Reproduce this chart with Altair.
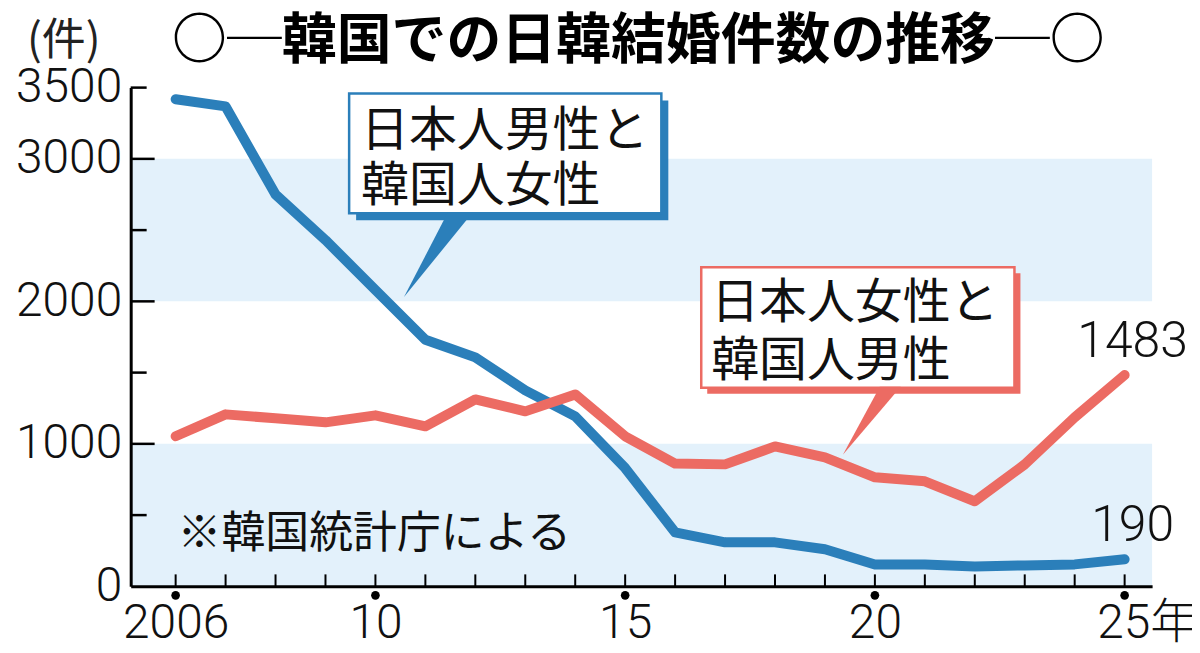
import altair as alt
import pandas as pd

# ---- data ----
years = list(range(2006, 2026))
jp_men_kr_women = [3418, 3368, 2750, 2430, 2080, 1730, 1607, 1375, 1193, 830,
                   379, 309, 309, 260, 154, 154, 140, 147, 154, 190]
jp_women_kr_men = [1053, 1207, 1179, 1151, 1200, 1123, 1312, 1228, 1347, 1053,
                   862, 856, 982, 905, 765, 737, 597, 856, 1186, 1483]
band_lo = [0, 2000]
band_hi = [1000, 3000]
y_label_values = [0, 1000, 2000, 3000, 3500]
y_major_ticks = [1000, 2000, 3000]
y_minor_ticks = [500, 1500, 2500, 3500]
x_label_years = [2006, 2010, 2015, 2020, 2025]
x_label_texts = ["2006", "10", "15", "20", "25年"]
end_values = [jp_men_kr_women[-1], jp_women_kr_men[-1]]

title_text = "○─韓国での日韓結婚件数の推移─○"
unit_text = "(件)"
source_text = "※韓国統計庁による"
blue_label = "日本人男性と\n韓国人女性"
red_label = "日本人女性と\n韓国人男性"

# ---- styles ----
W, H = 1024, 500
BLUE = "#2b7fba"
RED = "#ec6b63"
BAND = "#e3f1fb"
CJK = "Noto Sans CJK JP"
NUM = "Roboto, Noto Sans CJK JP"

xs = alt.Scale(domain=[2005.1, 2025.55], nice=False, zero=False)
ys = alt.Scale(domain=[0, 3500], nice=False)

one = pd.DataFrame({"a": [0]})

label_expr = " : ".join(
    f"datum.value == {y} ? '{t}'" for y, t in zip(x_label_years, x_label_texts)
) + " : ''"

x_axis = alt.Axis(
    values=x_label_years,
    labelExpr=label_expr,
    ticks=False,
    tickSize=0,
    grid=False,
    title=None,
    domainColor="black",
    domainWidth=3,
    labelFont=NUM,
    labelFontWeight=300,
    labelFontSize=48,
    labelColor="#111",
    labelPadding=13,
    labelAlign={"condition": {"test": "datum.value == 2025", "value": "left"}, "value": "center"},
    labelOffset={"condition": {"test": "datum.value == 2025", "value": -28}, "value": 0},
    labelFlush=False,
    labelOverlap=False,
    zindex=1,
)
y_axis = alt.Axis(
    values=y_label_values,
    format="d",
    ticks=False,
    tickSize=0,
    grid=False,
    title=None,
    domainColor="black",
    domainWidth=3,
    labelFont=NUM,
    labelFontWeight=300,
    labelFontSize=48,
    labelColor="#111",
    labelPadding=9,
    labelOverlap=False,
    labelFlush=False,
    zindex=1,
)

bands = alt.Chart(pd.DataFrame({"lo": band_lo, "hi": band_hi})).mark_rect(
    color=BAND
).encode(
    y=alt.Y("lo:Q", scale=ys, axis=y_axis),
    y2="hi:Q",
    x=alt.value(0),
    x2=alt.value(W),
)

df_b = pd.DataFrame({"year": years, "count": jp_men_kr_women})
df_r = pd.DataFrame({"year": years, "count": jp_women_kr_men})

x_ticks = alt.Chart(pd.DataFrame({"year": years})).mark_rule(
    color="black", strokeWidth=2
).encode(x=alt.X("year:Q", scale=xs, axis=x_axis), y=alt.value(H - 12), y2=alt.value(H))

blue_line = alt.Chart(df_b).mark_line(
    color=BLUE, strokeWidth=10, strokeCap="round", strokeJoin="round"
).encode(
    x=alt.X("year:Q", scale=xs),
    y=alt.Y("count:Q", scale=ys),
)
red_line = alt.Chart(df_r).mark_line(
    color=RED, strokeWidth=10, strokeCap="round", strokeJoin="round"
).encode(
    x=alt.X("year:Q", scale=xs),
    y=alt.Y("count:Q", scale=ys),
)

dots = alt.Chart(pd.DataFrame({"year": x_label_years})).mark_circle(
    color="black", size=75, opacity=1
).encode(x=alt.X("year:Q", scale=xs), y=alt.value(H + 9))

y_major = alt.Chart(pd.DataFrame({"v": y_major_ticks})).mark_rule(
    color="black", strokeWidth=2.5
).encode(y=alt.Y("v:Q", scale=ys), x=alt.value(0), x2=alt.value(24))
y_minor = alt.Chart(pd.DataFrame({"v": y_minor_ticks})).mark_rule(
    color="black", strokeWidth=2.5
).encode(y=alt.Y("v:Q", scale=ys), x=alt.value(0), x2=alt.value(16))


def shape(path, px, py, fill, stroke=None, sw=0):
    kw = dict(shape=path, size=4, filled=True, fill=fill, opacity=1,
              fillOpacity=1)
    if stroke:
        kw.update(stroke=stroke, strokeWidth=sw, strokeOpacity=1)
    else:
        kw.update(strokeWidth=0)
    return alt.Chart(one).mark_point(**kw).encode(x=alt.value(px), y=alt.value(py))


# blue callout
b_shadow = shape("M7,7 H320 V127 H7 Z", 219, 6, BLUE)
b_box = shape("M0,0 H313 V120 H0 Z", 219, 6, "white", BLUE, 2.5)
b_tail = shape("M99,119 L124,119 L55,204 Z", 219, 6, BLUE)
b_text = alt.Chart(one).mark_text(
    text=blue_label, lineBreak="\n", lineHeight=55, font=CJK, fontSize=48,
    align="left", baseline="alphabetic", color="#111"
).encode(x=alt.value(231), y=alt.value(59))

# red callout
r_shadow = shape("M6,6 H320 V127 H6 Z", 572, 180, RED)
r_box = shape("M0,0 H314 V121 H0 Z", 572, 180, "white", RED, 2.5)
r_tail = shape("M179,120 L200,120 L142,188 Z", 572, 180, RED)
r_text = alt.Chart(one).mark_text(
    text=red_label, lineBreak="\n", lineHeight=58, font=CJK, fontSize=48,
    align="left", baseline="alphabetic", color="#111"
).encode(x=alt.value(582), y=alt.value(231))

end_labels = alt.Chart(pd.DataFrame({"year": [2025, 2025], "v": end_values})).mark_text(
    font=NUM, fontWeight=300, fontSize=50, align="center", baseline="alphabetic",
    dx=8, dy=-18, color="#111"
).encode(x=alt.X("year:Q", scale=xs), y=alt.Y("v:Q", scale=ys), text=alt.Text("v:Q", format="d"))

title = alt.Chart(one).mark_text(
    text=title_text, font=CJK, fontSize=55, fontWeight="bold", align="center",
    baseline="middle", color="#000"
).encode(x=alt.value(509), y=alt.value(-47))

unit = alt.Chart(one).mark_text(
    text=unit_text, font=CJK, fontSize=44, align="left", baseline="middle",
    color="#222"
).encode(x=alt.value(-104), y=alt.value(-46))

source = alt.Chart(one).mark_text(
    text=source_text, font=CJK, fontSize=44, align="left", baseline="alphabetic",
    color="#111"
).encode(x=alt.value(47), y=alt.value(462))

chart = alt.layer(
    bands, x_ticks, y_major, y_minor, dots,
    blue_line, red_line,
    b_shadow, b_box, b_tail, b_text,
    r_shadow, r_box, r_tail, r_text,
    end_labels, source, title, unit,
).properties(
    width=W, height=H,
    padding={"left": 123, "top": 79, "right": 40, "bottom": 64},
    autosize=alt.AutoSizeParams(type="none"),
    background="white",
).configure_view(stroke=None)

chart.save("out.html", embed_options={"renderer": "svg", "actions": False})
